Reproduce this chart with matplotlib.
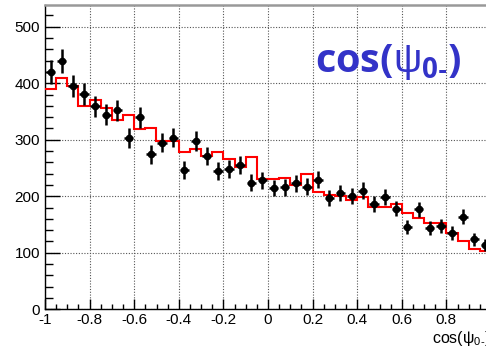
import numpy as np
import matplotlib
matplotlib.use("Agg")
import matplotlib.pyplot as plt

# ---- data ----
bin_edges = np.linspace(-1.0, 1.0, 41)
data_counts = [420, 439, 395, 381, 359, 344, 352, 303, 340, 274,
               295, 304, 247, 298, 271, 245, 248, 255, 224, 228,
               215, 216, 223, 217, 229, 197, 206, 201, 210, 186,
               198, 178, 146, 177, 144, 148, 135, 164, 124, 114]
model_counts = [389, 410, 396, 360, 371, 357, 335, 343, 319, 320,
                297, 297, 278, 284, 272, 278, 266, 252, 270, 231,
                231, 233, 220, 240, 208, 202, 200, 194, 199, 181,
                181, 186, 170, 161, 152, 152, 135, 121, 107, 104]
x_ticks = [-1, -0.8, -0.6, -0.4, -0.2, 0, 0.2, 0.4, 0.6, 0.8]
x_tick_labels = ["-1", "-0.8", "-0.6", "-0.4", "-0.2", "0", "0.2", "0.4", "0.6", "0.8"]
y_ticks = [0, 100, 200, 300, 400, 500]
y_tick_labels = ["0", "100", "200", "300", "400", "500"]
title_text = "$\\mathbf{cos(}\\mathrm{\\psi}_{\\mathbf{0\u2010}}\\mathbf{)}$"
xlabel_text = "$\\mathrm{cos(\\psi_{0\u2010})}$"

plt.rcParams['font.family'] = ['Liberation Sans', 'DejaVu Sans']
plt.rcParams['mathtext.fontset'] = 'custom'
plt.rcParams['mathtext.rm'] = 'Liberation Sans'
plt.rcParams['mathtext.it'] = 'Liberation Sans:italic'
plt.rcParams['mathtext.bf'] = 'Open Sans:bold'

W, H = 486, 349
fig = plt.figure(figsize=(W / 100, H / 100), dpi=100)
left, right, top, bottom = 45, 491, 5.3, 309.3
ax = fig.add_axes([left / W, 1 - bottom / H, (right - left) / W, (bottom - top) / H])

centers = 0.5 * (bin_edges[:-1] + bin_edges[1:])
counts = np.array(data_counts, dtype=float)

ax.stairs(model_counts, bin_edges, color='#ff0000', lw=1.5, baseline=None, zorder=3)
ax.errorbar(centers, counts, yerr=np.sqrt(counts), xerr=0.021, fmt='o', color='black',
            ms=4.5, elinewidth=1.8, capsize=0, zorder=4)

ax.set_xlim(-1, 1)
ax.set_ylim(0, 538)
ax.set_xticks(x_ticks)
ax.set_xticklabels(x_tick_labels)
ax.set_yticks(y_ticks)
ax.set_yticklabels(y_tick_labels)
ax.set_xticks(np.arange(-1, 1.001, 0.05), minor=True)
ax.set_yticks(np.arange(0, 540, 20), minor=True)

ax.tick_params(axis='x', which='major', direction='in', length=7.2, width=1, labelsize=11, pad=3)
ax.tick_params(axis='x', which='minor', direction='in', length=3.6, width=1)
ax.tick_params(axis='y', which='major', direction='in', length=10.5, width=1, labelsize=11, pad=3.5)
ax.tick_params(axis='y', which='minor', direction='in', length=5.5, width=1)

ax.grid(True, which='major', linestyle=(0, (1, 1.5)), color='#555555', lw=0.8, zorder=0)
ax.set_axisbelow(True)

for s in ['left', 'bottom']:
    ax.spines[s].set_color('black')
    ax.spines[s].set_linewidth(1)
ax.spines['top'].set_color('#999999')
ax.spines['top'].set_linewidth(1.8)
ax.spines['right'].set_color('black')

ax.text(1.0, (bottom - 343.3) / (bottom - top), xlabel_text, transform=ax.transAxes,
        ha='right', va='baseline', fontsize=11.5, color='black')

fig.text(315 / W, 1 - 72 / H, title_text, ha='left', va='baseline', fontsize=28.5,
         color='#3333c8')

fig.savefig("out.png", dpi=100)
